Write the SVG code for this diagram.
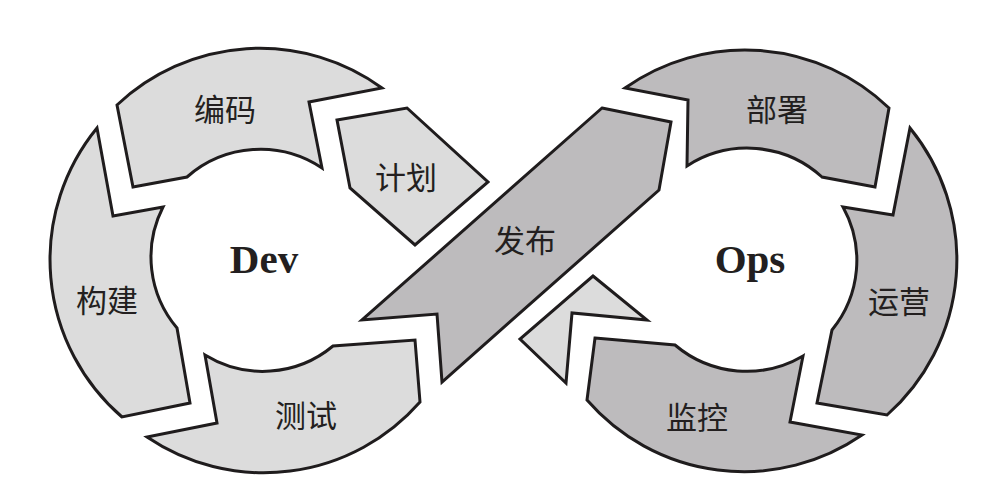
<svg xmlns="http://www.w3.org/2000/svg" width="1008" height="484" viewBox="0 0 1008 484">
<style>
.p{stroke:#1f1c1d;stroke-width:3;stroke-linejoin:miter}
.dev{fill:#dcdcdc}
.ops{fill:#bdbbbd}
.t{font-family:"Noto Sans CJK SC",sans-serif;font-size:31px;fill:#231f20;text-anchor:middle;dominant-baseline:central}
.b{font-family:"Liberation Serif",serif;font-size:41px;font-weight:bold;fill:#231f20;text-anchor:middle}
</style>
<rect width="1008" height="484" fill="#ffffff"/>
<g id="coding">
<path class="p dev" d="M117,105 A208,208 0 0,1 382,88 L309,102 L322,168 A111,111 0 0,0 187,177 L133,187 Z"/>
<text class="t" x="225" y="107">编码</text>
</g>
<g id="build">
<path class="p dev" d="M97,128 L113,216 L163,207 A110,110 0 0,0 177,328 L190,403 L122,417 A208,208 0 0,1 97,128 Z"/>
<text class="t" x="107" y="298">构建</text>
</g>
<g id="test">
<path class="p dev" d="M205,355 A110,110 0 0,0 333,346 L415,340 L420,402 A208,208 0 0,1 147,437 L217,423 Z"/>
<text class="t" x="306" y="413">测试</text>
</g>
<g id="plan">
<polygon class="p dev" points="337,120 407,108 488,182 415,245 350,188"/>
<text class="t" x="406" y="175">计划</text>
</g>
<g id="release">
<polygon class="p ops" points="602,108 671,122 659,190 442,382 437,314 362,320"/>
<text class="t" x="525" y="238">发布</text>
</g>
<g id="deploy">
<path class="p ops" d="M625,88 A208,208 0 0,1 889,108 L875,187 L822,177 A111,111 0 0,0 687,166 L688,100 Z"/>
<text class="t" x="777" y="107">部署</text>
</g>
<g id="operate">
<path class="p ops" d="M910,128 A208,208 0 0,1 887,415 L817,403 L832,330 A110,110 0 0,0 843,207 L893,215 Z"/>
<text class="t" x="899" y="299">运营</text>
</g>
<g id="monitor">
<path class="p ops" d="M595,338 L675,345 A111,111 0 0,0 803,356 L790,422 L862,435 A208,208 0 0,1 587,400 Z"/>
<text class="t" x="697" y="415">监控</text>
</g>
<g id="connectors">
<polygon class="p dev" points="593,276 647,320 572,313 566,383 520,339"/>
</g>
<g id="dev-label"><text class="b" x="264" y="273">Dev</text></g>
<g id="ops-label"><text class="b" x="750" y="273">Ops</text></g>
</svg>
